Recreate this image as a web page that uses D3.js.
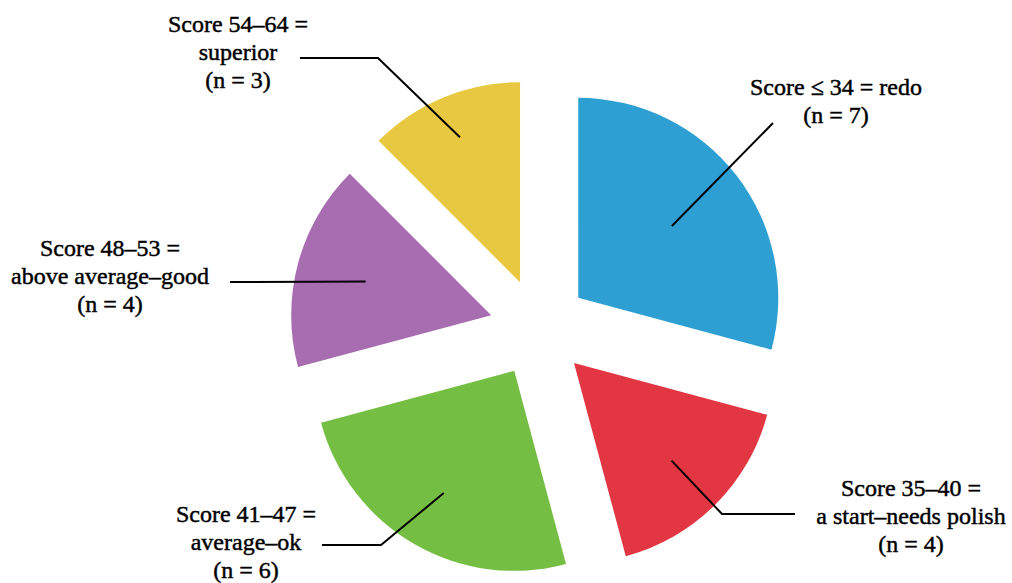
<!DOCTYPE html>
<html>
<head>
<meta charset="utf-8">
<script src="https://cdn.jsdelivr.net/npm/d3@7"></script>
<style>
  html, body { margin: 0; padding: 0; background: #fff; }
  svg { display: block; }
</style>
</head>
<body>
<svg id="chart" width="1012" height="583"></svg>
<script>
// Score bands and how many submissions fell into each
const categories = ["redo", "a start–needs polish", "average–ok", "above average–good", "superior"];
const counts = [7, 4, 6, 4, 3];
const labelLines = [
  ["Score ≤ 34 = redo", "(n = 7)"],
  ["Score 35–40 =", "a start–needs polish", "(n = 4)"],
  ["Score 41–47 =", "average–ok", "(n = 6)"],
  ["Score 48–53 =", "above average–good", "(n = 4)"],
  ["Score 54–64 =", "superior", "(n = 3)"]
];
const colors = ["#2e9fd3", "#e23642", "#75be44", "#a86db0", "#e8c841"];

// Callout layout: text anchor (x, first baseline), leader depth into the slice, elbow / end of leader
const callouts = [
  { tx: 836, ty: 95,  depth: 118, path: [[773, 123]] },
  { tx: 911, ty: 496, depth: 138, path: [[722, 514], [795, 514]] },
  { tx: 246, ty: 522, depth: 141, path: [[381, 545], [322, 545]] },
  { tx: 110, ty: 256, depth: 130, path: [[230, 282]] },
  { tx: 238, ty: 32,  depth: 157, path: [[378, 58], [300, 58]] }
];

const cx = 539, cy = 328, radius = 200, explode = 49.5, lineGap = 27.8;
const fontStack = "'Liberation Serif', 'Times New Roman', Times, serif";

const svg = d3.select("#chart");
const pie = d3.pie().sort(null).startAngle(0).endAngle(2 * Math.PI);
const arcs = pie(counts);
const arc = d3.arc().innerRadius(0).outerRadius(radius);

// Direction of a slice's bisector in screen space
const dir = d => {
  const a = (d.startAngle + d.endAngle) / 2;
  return [Math.sin(a), -Math.cos(a)];
};

const g = svg.append("g").attr("transform", `translate(${cx},${cy})`);

g.selectAll("path.slice")
  .data(arcs)
  .join("path")
  .attr("class", "slice")
  .attr("d", arc)
  .attr("fill", (d, i) => colors[i])
  .attr("transform", d => {
    const [ux, uy] = dir(d);
    return `translate(${ux * explode},${uy * explode})`;
  });

// Leader lines from inside each slice to its label
const line = d3.line();
svg.selectAll("path.leader")
  .data(arcs)
  .join("path")
  .attr("class", "leader")
  .attr("fill", "none")
  .attr("stroke", "#000")
  .attr("stroke-width", 2)
  .attr("d", (d, i) => {
    const [ux, uy] = dir(d);
    const k = explode + callouts[i].depth;
    const start = [cx + ux * k, cy + uy * k];
    return line([start, ...callouts[i].path]);
  });

// Multi-line labels
const labels = svg.selectAll("text.label")
  .data(arcs)
  .join("text")
  .attr("class", "label")
  .attr("text-anchor", "middle")
  .style("font-family", fontStack)
  .style("font-size", "24px")
  .style("fill", "#000")
  .style("stroke", "#000")
  .style("stroke-width", "0.45px")
  .attr("x", (d, i) => callouts[i].tx)
  .attr("y", (d, i) => callouts[i].ty);

labels.selectAll("tspan")
  .data((d, i) => labelLines[i].map(t => ({ t, x: callouts[i].tx })))
  .join("tspan")
  .attr("x", d => d.x)
  .attr("dy", (d, j) => j === 0 ? 0 : lineGap)
  .text(d => d.t);
</script>
</body>
</html>
